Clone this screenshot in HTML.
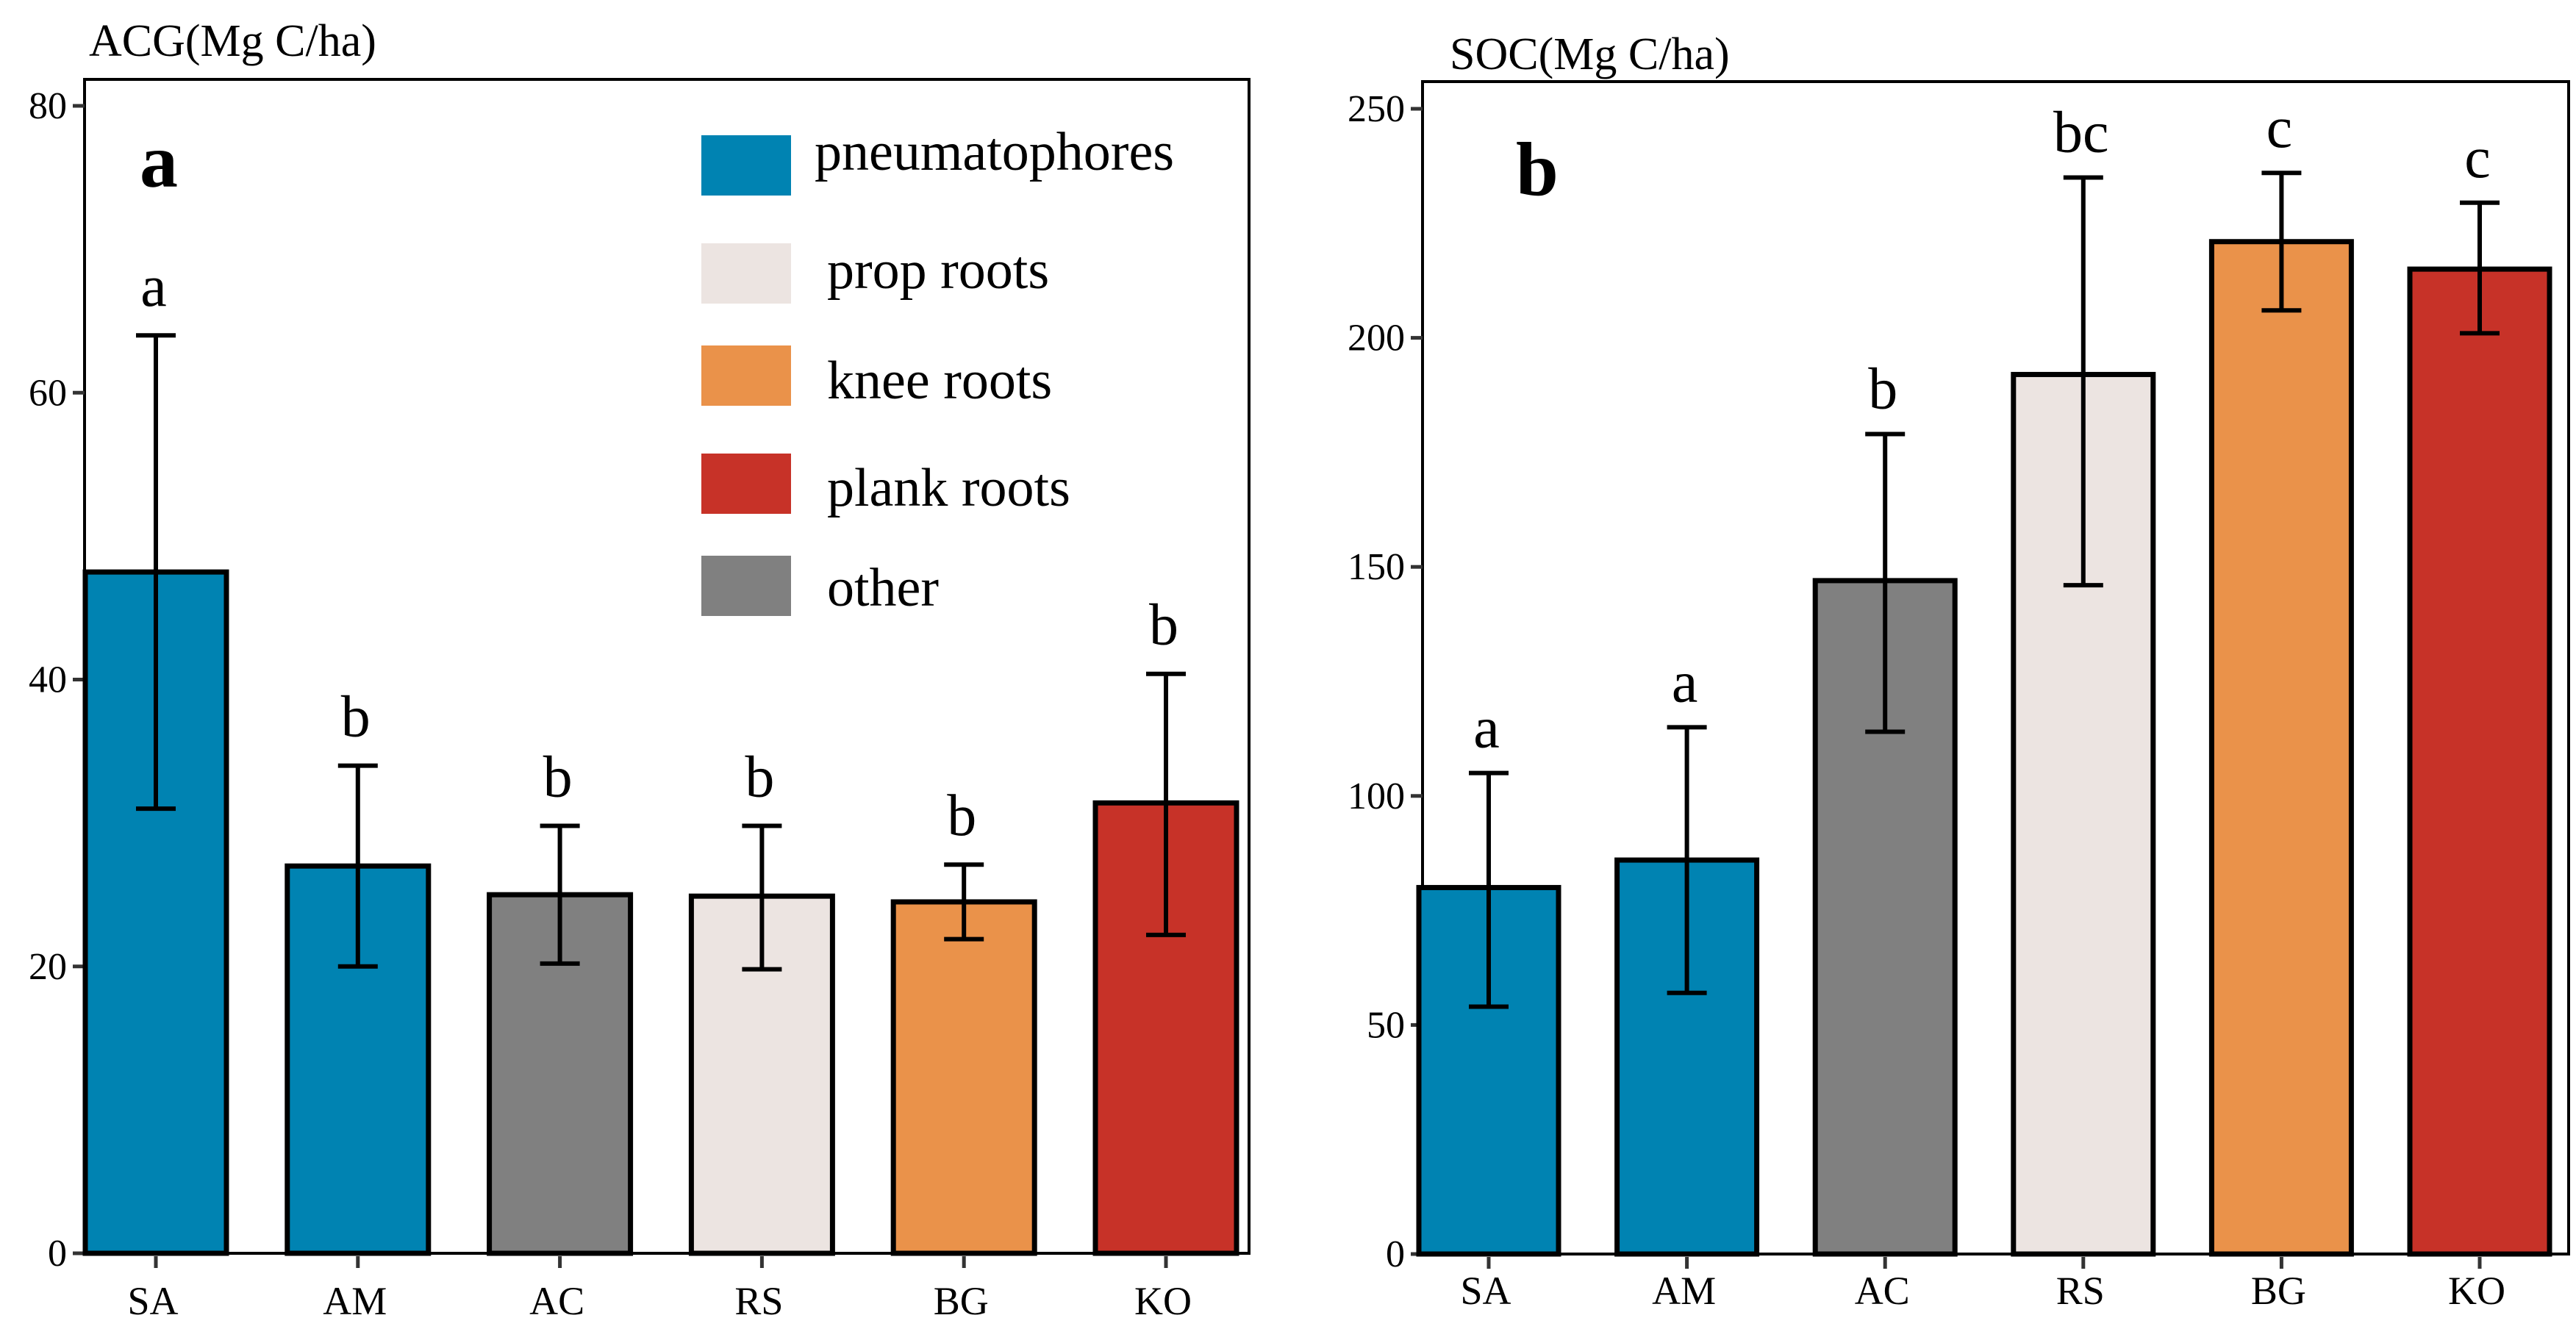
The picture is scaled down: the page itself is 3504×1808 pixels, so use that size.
<!DOCTYPE html>
<html><head><meta charset="utf-8"><style>
html,body{margin:0;padding:0;background:#fff;}
svg{display:block;font-family:"Liberation Serif",serif;}
svg text{font-family:"Liberation Serif",serif;}
</style></head><body>
<svg id="chart" width="3504" height="1808" viewBox="0 0 3504 1808" xmlns="http://www.w3.org/2000/svg"></svg>
<script>
const categories = ["SA","AM","AC","RS","BG","KO"];
const colorKeys = ["pneu","pneu","other","prop","knee","plank"];
const acgValues = [47.5, 27, 25, 24.9, 24.5, 31.4];
const acgLow = [31, 20, 20.2, 19.8, 21.9, 22.2];
const acgHigh = [64, 34, 29.8, 29.8, 27.1, 40.4];
const acgLetters = ["a","b","b","b","b","b"];
const acgTicks = [0,20,40,60,80];
const socValues = [80, 86, 147, 192, 221, 215];
const socLow = [54, 57, 114, 146, 206, 201];
const socHigh = [105, 115, 179, 235, 236, 229.5];
const socLetters = ["a","a","b","bc","c","c"];
const socTicks = [0,50,100,150,200,250];
const legendLabels = ["pneumatophores","prop roots","knee roots","plank roots","other"];
const legendKeys = ["pneu","prop","knee","plank","other"];

const colors = {pneu:"#0083B2", prop:"#ECE4E1", knee:"#EA924A", plank:"#C73228", other:"#808080"};
const NS = "http://www.w3.org/2000/svg";
const FONT = '"Liberation Serif", serif';
const svg = document.getElementById('chart');
function mk(tag, attrs, parent){
  const e = document.createElementNS(NS, tag);
  for (const k in attrs) e.setAttribute(k, attrs[k]);
  if (tag === 'text') e.setAttribute('font-family', FONT);
  (parent||svg).appendChild(e);
  return e;
}

function panel(cfg){
  const g = mk('g', {});
  
  
  const y = v => cfg.y0 - (v - 0) / cfg.max * (cfg.y0 - cfg.yTop);
  const x = i => cfg.x0 + i * cfg.step;
  const fr = mk('rect', {x:cfg.left, y:cfg.top, width:cfg.right-cfg.left, height:cfg.y0-cfg.top, fill:'none', stroke:'#000', 'stroke-width':4}, g);
  
  
  cfg.ticks.forEach(t => {
    const l = mk('line', {x1:cfg.left-16, x2:cfg.left, y1:y(t), y2:y(t), stroke:'#333', 'stroke-width':5}, g);
    
    
    const tx = mk('text', {x:cfg.left-24, y:y(t)+17, 'font-size':52, 'text-anchor':'end', fill:'#000'}, g);
    tx.textContent = t;
    
    
  });
  categories.forEach((c, i) => {
    const cx = x(i);
    const top = y(cfg.values[i]);
    const r = mk('rect', {x:cx-cfg.bw/2, y:top, width:cfg.bw, height:cfg.y0-top, fill:colors[colorKeys[i]], stroke:'#000', 'stroke-width':7}, g);
    
    
    const e = mk('path', {d:`M${cx},${y(cfg.low[i])}V${y(cfg.high[i])}M${cx-27},${y(cfg.low[i])}H${cx+27}M${cx-27},${y(cfg.high[i])}H${cx+27}`, stroke:'#000', 'stroke-width':6, fill:'none'}, g);
    
    
    const lt = mk('text', {x:cx-3, y:y(cfg.high[i])-cfg.gap, 'font-size':80, 'text-anchor':'middle', fill:'#000'}, g);
    lt.textContent = cfg.letters[i];
    
    
    const tk = mk('line', {x1:cx, x2:cx, y1:cfg.y0+4, y2:cfg.y0+20, stroke:'#333', 'stroke-width':5}, g);
    
    
    const xl = mk('text', {x:cx-4, y:cfg.labelY, 'font-size':54, 'text-anchor':'middle', fill:'#000'}, g);
    xl.textContent = c;
    
    
  });
  const tt = mk('text', {x:cfg.titleX, y:cfg.titleY, 'font-size':62, fill:'#000'}, g);
  tt.textContent = cfg.title;
  
  
  const pl = mk('text', {x:cfg.plX, y:cfg.plY, 'font-size':104, 'font-weight':'bold', fill:'#000'}, g);
  pl.textContent = cfg.panelLabel;
  
  
}

panel({name:'panel-a', left:115, right:1699, top:108, y0:1705, yTop:144, max:80, x0:212, step:274.8, bw:192,
  values:acgValues, low:acgLow, high:acgHigh, letters:acgLetters, ticks:acgTicks, gap:40, labelY:1788,
  title:'ACG(Mg C/ha)', titleX:121, titleY:76, panelLabel:'a', plX:190, plY:254});
panel({name:'panel-b', left:1935, right:3494, top:111, y0:1706, yTop:148, max:250, x0:2025, step:269.6, bw:190,
  values:socValues, low:socLow, high:socHigh, letters:socLetters, ticks:socTicks, gap:35, labelY:1774,
  title:'SOC(Mg C/ha)', titleX:1972, titleY:94, panelLabel:'b', plX:2062, plY:265});

const lg = mk('g', {});


const boxY = [184, 331, 470, 617, 756];
const textY = [231, 392, 542, 688, 824];
legendLabels.forEach((lab, i) => {
  const r = mk('rect', {x:954, y:boxY[i], width:122, height:82, fill:colors[legendKeys[i]]}, lg);
  
  
  const t = mk('text', {x: i===0 ? 1108 : 1125, y:textY[i], 'font-size':74, fill:'#000'}, lg);
  t.textContent = lab;
  
  
});
</script>
</body></html>
